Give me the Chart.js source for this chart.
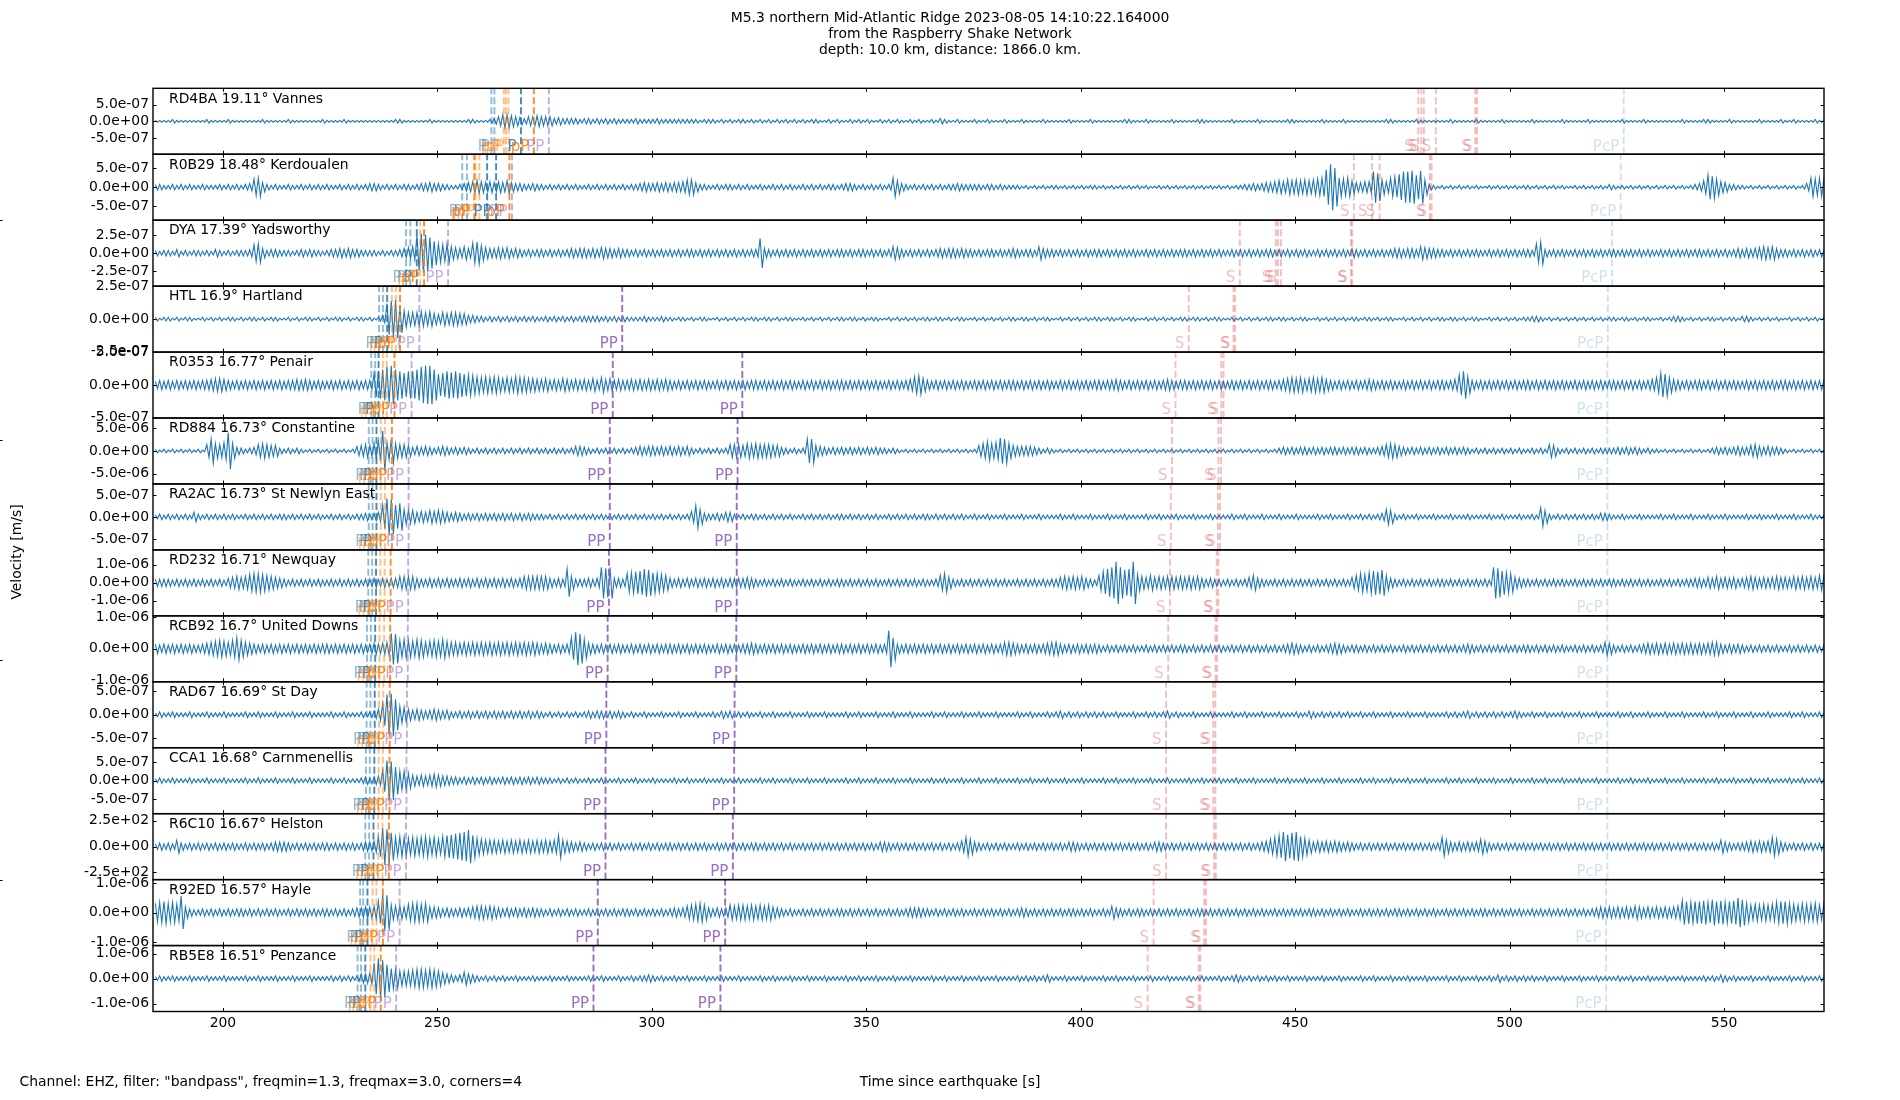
<!DOCTYPE html>
<html><head><meta charset="utf-8">
<script src="https://cdn.jsdelivr.net/npm/chart.js@4.4.1/dist/chart.umd.min.js"></script>
<style>html,body{margin:0;padding:0;background:#fff}canvas{display:block}</style>
</head><body>
<canvas id="c" width="1900" height="1100"></canvas>
<script>
// ---------------- DATA ----------------
const titleLines = ["M5.3 northern Mid-Atlantic Ridge 2023-08-05 14:10:22.164000", "from the Raspberry Shake Network", "depth: 10.0 km, distance: 1866.0 km."];
const xLabel = "Time since earthquake [s]";
const yLabel = "Velocity [m/s]";
const footNote = 'Channel: EHZ, filter: "bandpass", freqmin=1.3, freqmax=3.0, corners=4';
const xRange = [183.7, 573.3];
const xTicks = [200, 250, 300, 350, 400, 450, 500, 550];
const traceStart = 184; // first second covered by the envelope strings (1 char per second)

const stations = ["RD4BA 19.11° Vannes", "R0B29 18.48° Kerdoualen", "DYA 17.39° Yadsworthy", "HTL 16.9° Hartland", "R0353 16.77° Penair", "RD884 16.73° Constantine", "RA2AC 16.73° St Newlyn East", "RD232 16.71° Newquay", "RCB92 16.7° United Downs", "RAD67 16.69° St Day", "CCA1 16.68° Carnmenellis", "R6C10 16.67° Helston", "R92ED 16.57° Hayle", "RB5E8 16.51° Penzance"];
const yLimits = [9.9e-7, 8.6e-7, 4.6e-7, 2.52e-7, 5.05e-7, 7.2e-6, 7.5e-7, 1.83e-6, 1.04e-6, 7.0e-7, 8.8e-7, 3.2e2, 1.12e-6, 1.32e-6];
const yTickSteps = [5e-7, 5e-7, 2.5e-7, 2.5e-7, 5e-7, 5e-6, 5e-7, 1e-6, 1e-6, 5e-7, 5e-7, 2.5e2, 1e-6, 1e-6];
// amplitude of one envelope step (base-36 digit) per trace
const ampUnits = [2.75e-8, 2.39e-8, 1.28e-8, 7.0e-9, 1.40e-8, 2.0e-7, 2.08e-8, 5.08e-8, 2.89e-8, 1.94e-8, 2.44e-8, 8.9, 3.11e-8, 3.67e-8];

// peak amplitude per second, base-36 digits
const envRD4BA = "1111211111 1121111211 1111121111 1211111112 1111211111 1111112211 1111211111 1112211123 5776543556 5553433332 3323232322 2232222322 2222222122 2121212212 1212121212 1212211212 1121212112 1212112121 1213211211 1211211121 1121111211 1112111121 1111112211 1211111211 1112211111 1211111211 1111221111 1121111211 1111111221 1111211111 1121111121 1111211111 1211111121 1111211111 1121111211 1111112111 1221111211 1111211112 1121111211";
const envR0B29 = "3322323232 2322232323 2349a53232 2322323232 3223232323 4432323233 2344544332 2345676565 6575443343 3232323232 2323232323 2334544545 4556885332 2323323232 2322323232 2323232332 3443232323 23a7432323 2323233433 3332332322 2212121212 2121212122 1212121212 1211212121 2121212121 2122334345 5676878787 89ajpla9a7 5566hf86ab ehhidi8321 2121212121 1212121212 2121212121 1212121213 2121212121 2121212123 47dc965332 2121212121 212124a9a8";
const envDYA = "3233242323 3232432323 3349a53443 3323434332 3445454433 3323233456 7jlkhda9a7 6575bc8655 6564543434 4343434545 5454655454 4343434343 4343443434 3434343434 4g54343434 3434343434 4343443434 3476434343 4345455454 4343443434 5434437544 3434343434 4343434343 3434343434 4343434343 3434343434 4343434343 3434343435 4343434345 5455476554 4343434343 3434343434 43ac434343 3434343434 4343434343 3434343434 4343434345 4545676754 4343434343";
const envHTL = "2122121221 1212121221 2122121221 1212122121 2122121221 2124hklf97 7787865767 7664433232 3232323232 2323232323 3333232323 2222322232 2122121221 1212121212 2122121221 1212121212 2122121221 1212121212 2122121221 1212121212 2122121221 1212121212 2122121221 1212121212 2122121221 1212121212 2122121221 1212121212 2122121221 1212121212 2122121221 1212121212 2332121212 1212121212 2122121221 1212332121 2122121221 3321212121 1212121212";
const envR0353 = "4545454545 4556776545 4545454545 4556565454 4545454545 5dfhklhfdf fhkllhcdfe fdcba98989 8787988776 6756576565 6575867565 5656565656 5454545454 4545454545 5454545454 4545454545 5454545454 45454569a7 5454545454 4545454545 5454545454 4545454545 5455654545 4545456545 5454545454 4545454545 5456787867 8786545454 5456545454 4545454545 5456bf9545 4545454545 5454545454 4545454545 5454545456 8dc8654545 5454545454 4545454545 5454545454";
const envRD884 = "2121212121 217d879k84 3234787663 2323212121 2121212567 68bm9d8776 4545434543 4343232323 2323232323 2323232355 4323232323 2345455454 5454532323 2323777687 8777664323 23dd654343 4343434343 3232121212 1212121212 1268a89ed8 6555543232 1212121212 1212121212 1212121212 1212121212 1212121212 1234343443 4343443434 4343345787 5434343434 3434343232 3232323232 2323276323 2323232333 3434343232 2121212121 2123434345 4467545443 2121212121";
const envRA2AC = "2323232325 3232323232 2323232323 3232323232 2323232334 345dkjdf87 7565767654 5434343434 3434343433 3232323232 3232323232 3232323232 323236c843 3435532323 3232323232 2323232323 3232323232 2323232323 3232323232 2322322232 2232223222 2322322232 2232223222 2322322232 2232223222 2322322232 2232223222 2322322232 2323234873 2322322232 2232223222 2322322232 232a732323 2323232443 2232223222 2322322232 2232223222 2322322232 2232223222";
const envRD232 = "4444343434 3434343567 679aa98765 4343434343 3434343434 4545455777 7544545454 4545454545 4545457777 775454f744 4545hgh554 abcdfeba98 5454545454 5454555565 4343434343 3434343434 4343434343 3434343434 3348a64343 4343434343 3434343434 4676767543 8cfhnhefn9 7686767767 6767545443 4343468543 3434343434 3434343436 8a9bdce854 3434343434 4343434343 43hgdba654 4343434343 3434343434 4343434343 3434343445 5465756564 5676565676 6576767687";
const envRCB92 = "5454545454 456789879c 9765454545 4545454545 5454545454 56567hg9a9 8a97898a87 7676767676 7676767676 5654545cig a654545454 4545454545 5454545454 4545454556 5454545454 4545454545 5454545454 5kc5454545 4545454545 4545454577 6545454567 7545454545 4343434343 3434343434 4343434343 3434343434 3434565434 3434565434 4343434343 3434343434 3434345434 3434343434 4343434343 3434343476 4343434565 6565656565 6567754545 4343434343 3434343434";
const envRAD67 = "2322322232 2232223222 2322322232 2232223222 2322322232 346cmnh986 5654565453 3434343434 3434343434 3232323232 3434434343 2322322232 2232223222 3243423232 2322322232 2232223222 2322322232 2232223222 2322322232 2232223222 2322322232 3423232323 2322322232 2323234232 2232223222 2322322232 2232223224 3232323232 2322322232 2232223222 2323234232 3232323432 2322322232 2232223222 2322322232 2232223222 2322322232 2232223222 2322322232";
const envCCA1 = "2322322232 2232223222 2322322232 2232223222 2322322234 345cmlfaa8 6565676554 4343434343 3434343434 3332323232 2322322232 2232223222 2322322232 2232223222 2322322232 2232223222 2322322232 2232223222 2322322232 2232223222 2322322232 2232223222 2322322232 2232223222 2322322232 2232223222 2322322232 2232223222 2322322232 2232223222 2322322232 2232223222 2322322232 2232223222 2322322232 2232223222 2322322232 2232223222 2322322232";
const envR6C10 = "3434374343 4343434343 3434343455 5434343434 4343434345 56bkjfaba9 a9ab9a8bcd efgic98777 6767676767 6767c76545 4343434343 3434343434 4343434343 3434343434 4343434343 3434343434 3434343435 5434343434 343434346a 8543434343 3434343434 3435543434 3434343434 3435543434 3434343434 3434343456 8acgdfgb97 5656565454 3434343434 3434343434 a754545458 6434343434 3434343434 3434343434 3434343434 3434343434 3434375434 4565656a85 4343434343";
const envR92ED = "abcab9i643 3434343434 4343434343 3434343434 4343434556 67ckj87769 aa9a665454 4545677676 5454545454 4343434343 3434343434 4343434343 4545789a85 4545878878 7878654343 3434343434 4343434343 3434345554 4343434343 3434343434 3454343434 3434434343 3437543434 4343434343 3434434343 4343434343 3434343434 4343434343 3434343434 4343434343 3434343434 4343434343 3434343434 3434345656 5656576565 656567dcbc cdbecdbcdg ea898989bc ca98a99a89";
const envRB5E8 = "2322322232 2232223222 2322322232 2232223222 2323232355 6hmkfba888 9aa9a98654 3475432323 2322322232 2232223222 2322322232 2323343232 2322322232 2232223222 2322322232 2232223222 2322322232 2232223222 2322322232 2232223222 2323232342 2232223222 2322322232 2232223222 2322322232 2343232323 2322322232 2232223222 2322322232 2232223222 2322322232 2324232323 2322322232 2232223222 2322322232 2232223222 2323243232 2232223222 2322322232";
const envelopes = [envRD4BA, envR0B29, envDYA, envHTL, envR0353, envRD884, envRA2AC, envRD232, envRCB92, envRAD67, envCCA1, envR6C10, envR92ED, envRB5E8];

// phase arrivals: [time s, phase, emphasis]
const phRD4BA = [[262.6,'P',0],[263.3,'P',0],[265.5,'pP',0],[266.0,'pP',0],[266.6,'pP',0],[269.5,'P',1],[272.5,'pP',1],[276.0,'PP',0],[478.7,'S',0],[479.4,'S',0],[480.0,'S',0],[482.8,'S',0],[492.0,'S',0],[492.4,'S',0],[526.6,'PcP',0]];
const phR0B29 = [[255.8,'P',0],[256.9,'P',0],[258.6,'pP',1],[258.9,'pP',0],[259.8,'pP',0],[261.6,'P',1],[263.7,'P',1],[266.8,'pP',1],[267.4,'PP',0],[463.7,'S',0],[467.9,'S',0],[469.7,'S',0],[481.4,'S',0],[481.8,'S',0],[525.9,'PcP',0]];
const phDYA = [[242.7,'P',0],[243.7,'P',0],[245.2,'P',1],[246.0,'pP',0],[246.9,'pP',1],[252.5,'PP',0],[437.1,'S',0],[445.5,'S',0],[446.0,'S',0],[446.7,'S',0],[463.0,'S',0],[463.3,'S',0],[523.9,'PcP',0]];
const phHTL = [[236.4,'P',0],[237.3,'P',0],[238.3,'P',1],[239.4,'pP',0],[240.3,'pP',0],[241.3,'pP',1],[245.8,'PP',0],[293.1,'PP',1],[425.2,'S',0],[435.6,'S',0],[436.0,'S',0],[522.9,'PcP',0]];
const phR0353 = [[234.6,'P',0],[235.5,'P',0],[236.3,'P',1],[237.3,'pP',0],[238.2,'pP',0],[240.0,'pP',1],[244.0,'PP',0],[290.9,'PP',1],[321.1,'PP',1],[422.1,'S',0],[432.8,'S',0],[433.3,'S',0],[522.8,'PcP',0]];
const phRD884 = [[234.0,'P',0],[234.9,'P',0],[235.8,'P',1],[236.8,'pP',0],[237.8,'pP',0],[239.4,'pP',1],[243.3,'PP',0],[290.2,'PP',1],[320.0,'PP',1],[421.3,'S',0],[432.1,'S',0],[432.7,'S',0],[522.8,'PcP',0]];
const phRA2AC = [[234.0,'P',0],[234.9,'P',0],[235.8,'P',1],[236.8,'pP',0],[237.8,'pP',0],[239.4,'pP',1],[243.3,'PP',0],[290.2,'PP',1],[319.8,'PP',1],[421.0,'S',0],[432.0,'S',0],[432.5,'S',0],[522.8,'PcP',0]];
const phRD232 = [[233.9,'P',0],[234.8,'P',0],[235.7,'P',1],[236.7,'pP',0],[237.7,'pP',0],[239.1,'pP',1],[243.2,'PP',0],[290.0,'PP',1],[319.8,'PP',1],[420.8,'S',0],[431.7,'S',0],[432.1,'S',0],[522.8,'PcP',0]];
const phRCB92 = [[233.6,'P',0],[234.5,'P',0],[235.5,'P',1],[236.5,'pP',0],[237.6,'pP',0],[239.0,'pP',1],[243.1,'PP',0],[289.7,'PP',1],[319.7,'PP',1],[420.4,'S',0],[431.4,'S',0],[431.8,'S',0],[522.8,'PcP',0]];
const phRAD67 = [[233.5,'P',0],[234.4,'P',0],[235.4,'P',1],[236.4,'pP',0],[237.4,'pP',0],[238.9,'pP',1],[242.9,'PP',0],[289.4,'PP',1],[319.3,'PP',1],[419.9,'S',0],[430.9,'S',0],[431.4,'S',0],[522.8,'PcP',0]];
const phCCA1 = [[233.35,'P',0],[234.25,'P',0],[235.3,'P',1],[236.3,'pP',0],[237.3,'pP',0],[238.85,'pP',1],[242.8,'PP',0],[289.2,'PP',1],[319.2,'PP',1],[419.9,'S',0],[430.9,'S',0],[431.4,'S',0],[522.8,'PcP',0]];
const phR6C10 = [[233.2,'P',0],[234.1,'P',0],[235.1,'P',1],[236.2,'pP',0],[237.2,'pP',0],[238.7,'pP',1],[242.7,'PP',0],[289.2,'PP',1],[318.9,'PP',1],[419.9,'S',0],[431.1,'S',0],[431.5,'S',0],[522.8,'PcP',0]];
const phR92ED = [[232.0,'P',0],[232.7,'P',0],[233.7,'P',1],[234.9,'pP',0],[235.8,'pP',0],[237.3,'pP',1],[241.2,'PP',0],[287.4,'PP',1],[317.1,'PP',1],[417.0,'S',0],[428.8,'S',0],[429.2,'S',0],[522.5,'PcP',0]];
const phRB5E8 = [[231.4,'P',0],[232.2,'P',0],[233.2,'P',1],[234.4,'pP',0],[235.3,'pP',0],[236.8,'pP',1],[240.4,'PP',0],[286.4,'PP',1],[316.0,'PP',1],[415.6,'S',0],[427.5,'S',0],[427.9,'S',0],[522.5,'PcP',0]];
const phases = [phRD4BA, phR0B29, phDYA, phHTL, phR0353, phRD884, phRA2AC, phRD232, phRCB92, phRAD67, phCCA1, phR6C10, phR92ED, phRB5E8];

// ---------------- STYLE ----------------
const FONT = 'DejaVu Sans';
const TRACE_COLOR = '#1f77b4';
const phaseRGB = {P:'31,119,180', pP:'255,127,14', PP:'148,103,189', S:'214,39,40', PcP:'31,119,180'};
const phaseAlpha = {P:[0.5,0.85], pP:[0.5,0.9], PP:[0.55,0.95], S:[0.3,0.45], PcP:[0.22,0.22]};
const PLOT = {top: 88.3, right: 1824, leftWidth: 153, xAxisH: 40, bottom: 1011.5};

function sci(v){
  if (Math.abs(v) < 1e-30) return '0.0e+00';
  const parts = v.toExponential(1).split('e');
  const sign = parts[1][0] === '-' ? '-' : '+';
  let d = parts[1].replace(/[+-]/, '');
  if (d.length < 2) d = '0' + d;
  return parts[0] + 'e' + sign + d;
}

// ---------------- BUILD ----------------
const N = stations.length;
const datasets = envelopes.map((env, k) => {
  const codes = env.replace(/\s+/g, '').split('').map(c => parseInt(c, 36));
  const pts = [];
  codes.forEach((c, i) => {
    const a = c * ampUnits[k];
    const t = traceStart + i;
    pts.push({x: t + 0.25, y: a}, {x: t + 0.75, y: -a});
  });
  return {data: pts, yAxisID: 'y' + k, xAxisID: 'x', borderColor: TRACE_COLOR, borderWidth: 1.1,
          pointRadius: 0, tension: 0, fill: false, spanGaps: true};
});

const scales = {
  x: {
    type: 'linear', position: 'bottom', min: xRange[0], max: xRange[1],
    afterBuildTicks: s => { s.ticks = xTicks.map(v => ({value: v})); },
    afterFit: s => { s.height = PLOT.xAxisH; s.paddingLeft = 0; s.paddingRight = 0; },
    grid: {display: false, drawTicks: false}, border: {display: false},
    ticks: {font: {family: FONT, size: 13.9}, color: '#000', padding: 4, maxRotation: 0, autoSkip: false,
            callback: v => String(v)}
  }
};
for (let k = 0; k < N; k++) {
  const step = yTickSteps[k];
  scales['y' + k] = {
    type: 'linear', position: 'left', stack: 'panels', stackWeight: 1, weight: N - k,
    min: -yLimits[k], max: yLimits[k],
    afterBuildTicks: s => { s.ticks = [-step, 0, step].map(v => ({value: v})); },
    afterFit: s => { s.width = PLOT.leftWidth; s.paddingTop = 0; s.paddingBottom = 0; },
    grid: {display: false, drawTicks: false}, border: {display: false},
    ticks: {font: {family: FONT, size: 13.9}, color: '#000', padding: 4, autoSkip: false,
            callback: v => sci(v)}
  };
}

const overlay = {
  id: 'overlay',
  afterDatasetsDraw(chart) {
    const ctx = chart.ctx, xs = chart.scales.x, area = chart.chartArea;
    ctx.save();
    for (let k = 0; k < N; k++) {
      const ys = chart.scales['y' + k];
      const top = ys.top, bottom = ys.bottom;
      phases[k].forEach(([t, name, strong]) => {
        const col = 'rgba(' + phaseRGB[name] + ',' + phaseAlpha[name][strong] + ')';
        const x = xs.getPixelForValue(t);
        ctx.strokeStyle = col; ctx.lineWidth = 1.9; ctx.setLineDash([7, 3]);
        ctx.beginPath(); ctx.moveTo(x, bottom); ctx.lineTo(x, top); ctx.stroke();
        ctx.setLineDash([]);
        ctx.fillStyle = col; ctx.font = '15px "' + FONT + '"';
        ctx.textAlign = 'right'; ctx.textBaseline = 'alphabetic';
        ctx.fillText(name, x - 4.5, bottom - 3.7);
      });
    }
    ctx.setLineDash([]);
    for (let k = 0; k < N; k++) {
      const ys = chart.scales['y' + k];
      const top = ys.top, bottom = ys.bottom;
      ctx.strokeStyle = '#000'; ctx.lineWidth = 1;
      ctx.beginPath();
      xTicks.forEach(v => {
        const x = Math.round(xs.getPixelForValue(v)) + 0.5;
        ctx.moveTo(x, top); ctx.lineTo(x, top + 3.5);
        ctx.moveTo(x, bottom); ctx.lineTo(x, bottom - 3.5);
      });
      [-yTickSteps[k], 0, yTickSteps[k]].forEach(v => {
        const y = Math.round(ys.getPixelForValue(v)) + 0.5;
        ctx.moveTo(area.left, y); ctx.lineTo(area.left + 3.5, y);
        ctx.moveTo(area.right, y); ctx.lineTo(area.right - 3.5, y);
      });
      ctx.stroke();
      ctx.lineWidth = 1.4;
      ctx.strokeRect(area.left, top, area.right - area.left, bottom - top);
      ctx.fillStyle = '#000'; ctx.font = '13.9px "' + FONT + '"';
      ctx.textAlign = 'left'; ctx.textBaseline = 'alphabetic';
      ctx.fillText(stations[k], area.left + 16, top + 14.3);
    }
    ctx.restore();
  },
  afterDraw(chart) {
    const ctx = chart.ctx;
    ctx.save();
    ctx.fillStyle = '#000';
    ctx.font = '13.9px "' + FONT + '"';
    ctx.textAlign = 'center'; ctx.textBaseline = 'alphabetic';
    titleLines.forEach((s, i) => ctx.fillText(s, 950, 21.7 + i * 16.3));
    ctx.fillText(xLabel, 950, 1085.7);
    ctx.textAlign = 'left';
    ctx.fillText(footNote, 19.5, 1085.7);
    ctx.save();
    ctx.translate(17, 552); ctx.rotate(-Math.PI / 2);
    ctx.textAlign = 'center'; ctx.textBaseline = 'middle';
    ctx.fillText(yLabel, 0, 0);
    ctx.restore();
    ctx.strokeStyle = '#000'; ctx.lineWidth = 1;
    ctx.beginPath();
    [220, 440, 660, 880].forEach(y => { ctx.moveTo(0, y + 0.5); ctx.lineTo(2.5, y + 0.5); });
    ctx.stroke();
    ctx.restore();
  }
};

Chart.defaults.font.family = FONT;
new Chart(document.getElementById('c'), {
  type: 'line',
  data: {datasets},
  options: {
    responsive: false, animation: false, devicePixelRatio: 1, events: [],
    parsing: false, normalized: true,
    layout: {padding: {top: PLOT.top, left: 0, right: 1900 - PLOT.right, bottom: 1100 - PLOT.bottom - PLOT.xAxisH}},
    plugins: {legend: {display: false}, tooltip: {enabled: false}, title: {display: false}},
    scales
  },
  plugins: [overlay]
});
</script>
</body></html>
